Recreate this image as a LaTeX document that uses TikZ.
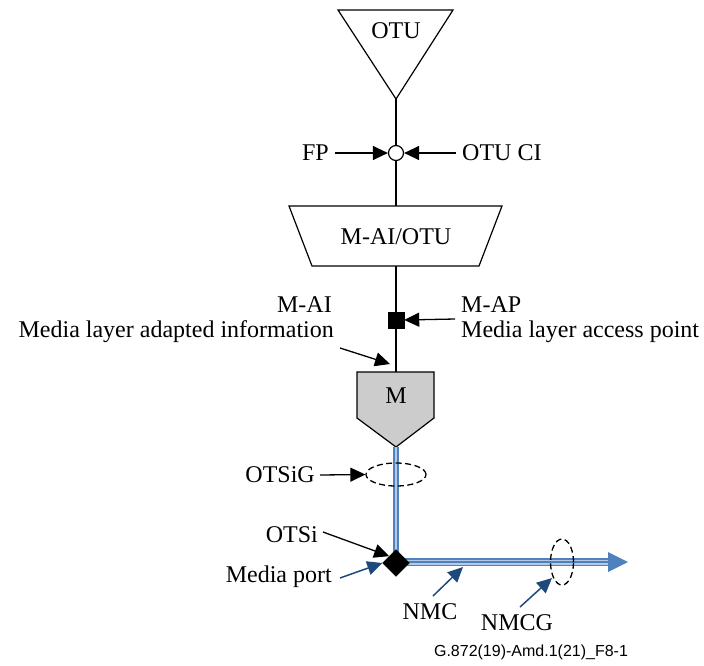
\documentclass[tikz,border=0pt]{standalone}
\usepackage{fontspec}
\setmainfont{Liberation Serif}
\newfontfamily\footfont{Liberation Sans}
\usetikzlibrary{arrows.meta,shapes.geometric}
\definecolor{lineblue}{RGB}{79,129,189}
\definecolor{lightblue}{RGB}{178,201,232}
\definecolor{darkblue}{RGB}{31,73,125}
\definecolor{boxgray}{RGB}{204,204,204}
\tikzset{
  lbl/.style={font=\fontsize{24}{28}\selectfont, inner sep=0pt},
  ptr/.style={line width=1.3pt, -{Triangle[length=15pt,width=14pt]}},
  bptr/.style={line width=1.5pt, darkblue, -{Triangle[length=15pt,width=14pt]}},
  conn/.style={line width=1.2pt},
  dashell/.style={draw, dash pattern=on 6pt off 3.5pt, line width=1.3pt, ellipse, inner sep=0pt},
}
\begin{document}
\begin{tikzpicture}[x=1pt,y=-1pt]
\useasboundingbox (0,0) rectangle (704,665);

% OTU triangle
\draw[conn] (338,10) -- (453,10) -- (396,99) -- cycle;
\coordinate (otuapex) at (396,99);
\node[lbl] (otu) at (396,31) {OTU};

% FP circle
\node[draw, circle, line width=1.2pt, minimum size=15pt, inner sep=0pt, fill=white] (fp) at (396,153) {};
\node[lbl, anchor=east] (fplbl) at (329,153) {FP};
\node[lbl, anchor=west] (otuci) at (462,153) {OTU CI};

% trapezoid
\draw[conn] (289,206) -- (502,206) -- (479,266) -- (312,266) -- cycle;
\coordinate (trtop) at (396,206);
\coordinate (trbot) at (396,266);
\node[lbl] (mai) at (396,237) {M-AI/OTU};

% access point square
\node[draw, fill=black, minimum size=16pt, inner sep=0pt] (ap) at (396,320) {};
\node[lbl, anchor=west] (maplbl) at (461,305) {M-AP};
\node[lbl, anchor=west] (mapdesc) at (461,332) {Media layer access point};
\node[lbl, anchor=east] (mailbl) at (332,305) {M-AI};
\node[lbl, anchor=east] (maidesc) at (334,332) {Media layer adapted information};

% M pentagon
\draw[conn, fill=boxgray] (357,372) -- (434,372) -- (434,418) -- (396,447) -- (357,418) -- cycle;
\coordinate (mtop) at (396,372);
\coordinate (mapex) at (396,447);
\node[lbl] (mlbl) at (396,396) {M};

% black connectors
\draw[conn] (otuapex) -- (fp);
\draw[conn] (fp) -- (trtop);
\draw[conn] (trbot) -- (ap);
\draw[conn] (ap) -- (mtop);
\coordinate (maitip) at (390,364);
\draw[ptr] (340,348) -- (maitip);

% media port diamond and blue lines
\coordinate (mpc) at (396,562);
\coordinate (hend) at (610,562);
\coordinate (htip) at (628,562);
\draw[lineblue, line width=5.5pt] (mapex) -- (mpc);
\draw[lightblue, line width=1.2pt] (mapex) -- (mpc);
\draw[lineblue, line width=8pt] (mpc) -- (hend);
\draw[lightblue, line width=5pt] (mpc) -- (hend);
\draw[lineblue, line width=1.8pt] (mpc) -- (hend);
\fill[lineblue] (608,552) -- (htip) -- (608,572) -- cycle;
\node[draw, fill=black, diamond, minimum size=27pt, inner sep=0pt] (mp) at (396,563) {};

% ellipses
\node[dashell, minimum width=60pt, minimum height=23pt] (otsig) at (396,474.5) {};
\node[dashell, minimum width=23pt, minimum height=46pt] (nmcg) at (562,562) {};

% labels with pointers
\node[lbl, anchor=east] (otsiglbl) at (315,475) {OTSiG};
\node[lbl, anchor=east] (otsilbl) at (318,535) {OTSi};
\node[lbl, anchor=east] (mplbl) at (332,577) {Media port};
\node[lbl] (nmclbl) at (430,612) {NMC};
\node[lbl] (nmcglbl) at (517,623) {NMCG};

\draw[ptr] (fplbl.east) ++(6,0) -- (fp.west);
\draw[ptr] (otuci.west) ++(-6,0) -- (fp.east);
\draw[ptr] (maplbl.west) ++(-6,14) -- (ap.east);
\draw[ptr] (otsiglbl.east) ++(5,0) -- (otsig.west);
\draw[ptr] (323,532) -- (mp.north west);
\draw[bptr] (340,578) -- (mp.west);
\coordinate (nmcpt) at (463,567);
\coordinate (nmcgpt) at (552,578);
\draw[bptr] (433,596) -- (nmcpt);
\draw[bptr] (520,607) -- (nmcgpt);

% footer
\node[inner sep=0pt, font=\footfont\fontsize{16}{19}\selectfont] (foot) at (531,652) {G.872(19)-Amd.1(21)\_F8-1};
\end{tikzpicture}
\end{document}
